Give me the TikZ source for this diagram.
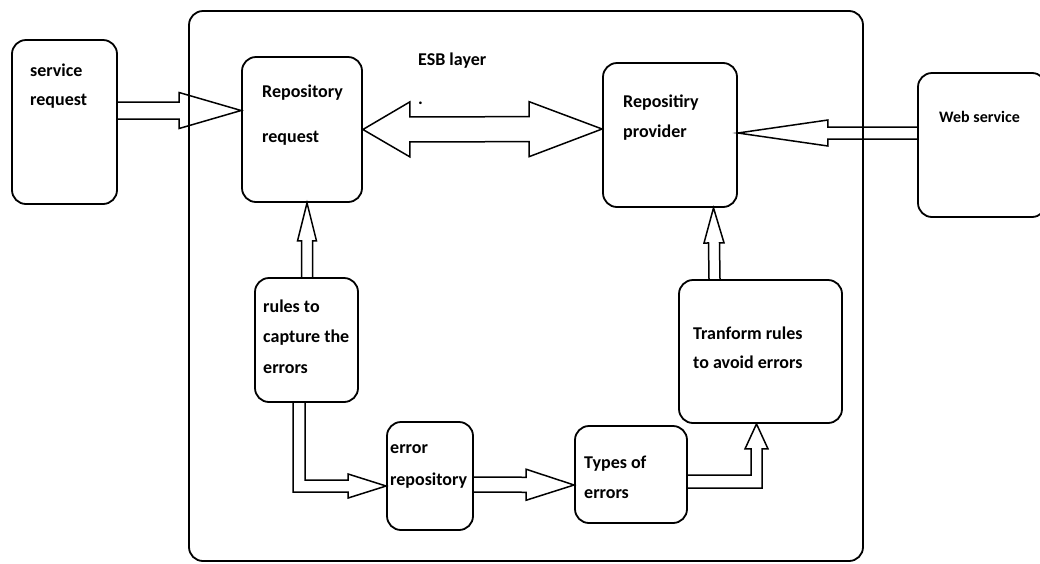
\documentclass[tikz,border=0pt]{standalone}
\usepackage{fontspec}
\setmainfont{Carlito}
\usetikzlibrary{calc}

\tikzset{
  box/.style={draw, line width=1.8pt, rounded corners=14pt, inner sep=0pt},
  txt/.style={anchor=west, align=left, inner sep=0pt, font=\bfseries\fontsize{18}{30}\selectfont},
  hollow/.style={line width=1.5pt, line join=miter},
}

% hollow block arrow: from, to, shaft half width, head half width, head length
\newcommand{\hollowarrow}[5]{%
  \coordinate (hb) at ($(#2)!#5!(#1)$);
  \draw[hollow] ($(#1)!#3!90:(#2)$) -- ($(hb)!#3!90:(#2)$) -- ($(hb)!#4!90:(#2)$)
    -- (#2) -- ($(hb)!#4!-90:(#2)$) -- ($(hb)!#3!-90:(#2)$) -- ($(#1)!#3!-90:(#2)$);
}

\begin{document}
\begin{tikzpicture}[x=1pt, y=-1pt]
  \useasboundingbox (0,0) rectangle (1040,563);

  % ESB container
  \node[box, minimum width=674pt, minimum height=550pt] (esb) at (526,286) {};
  \node[txt] (esb-t) at (418,61) {ESB layer};
  \node[txt] (dot) at (418,103) {.};

  % boxes
  \node[box, minimum width=105pt, minimum height=164pt] (svcreq) at (64.5,122) {};
  \node[box, minimum width=120pt, minimum height=145pt] (repreq) at (302,129.5) {};
  \node[box, minimum width=134pt, minimum height=144pt] (repprov) at (670,135) {};
  \node[box, minimum width=128pt, minimum height=144pt] (websvc) at (982,145) {};
  \node[box, minimum width=103pt, minimum height=124pt] (rules) at (306.5,340) {};
  \node[box, minimum width=86pt, minimum height=108pt] (errrep) at (430,476) {};
  \node[box, minimum width=112pt, minimum height=97pt] (types) at (631,474.5) {};
  \node[box, minimum width=163pt, minimum height=143pt] (tranform) at (760.5,351.5) {};

  % texts
  \node[txt, font=\bfseries\fontsize{18}{29}\selectfont] (svcreq-t) at (30,86.5) {service\\request};
  \node[txt, font=\bfseries\fontsize{18}{45}\selectfont] (repreq-t) at (262,115.5) {Repository\\request};
  \node[txt] (repprov-t) at (623,118) {Repositiry\\provider};
  \node[txt, font=\bfseries\fontsize{16}{20}\selectfont] (websvc-t) at (939,117) {Web service};
  \node[txt, font=\bfseries\fontsize{18}{30.5}\selectfont] (rules-t) at (263,336.5) {rules to\\capture the\\errors};
  \node[txt, font=\bfseries\fontsize{18}{32}\selectfont] (errrep-t) at (390,466) {error\\repository};
  \node[txt] (types-t) at (584,477) {Types of\\errors};
  \node[txt, font=\bfseries\fontsize{18}{29}\selectfont] (tranform-t) at (693,347.5) {Tranform rules\\to avoid errors};

  % straight arrows
  \coordinate (a1) at ($(svcreq.east)+(0,-11.5)$);
  \coordinate (b1) at ($(repreq.west)+(0,-19)$);
  \hollowarrow{a1}{b1}{8.5pt}{18pt}{62pt}
  \coordinate (a2) at ($(websvc.west)+(0,-12)$);
  \coordinate (b2) at ($(repprov.east)+(0,-2)$);
  \hollowarrow{a2}{b2}{6pt}{13pt}{90pt}
  \coordinate (a3) at ($(rules.north)+(0.5,0)$);
  \coordinate (b3) at ($(repreq.south)+(5,0)$);
  \hollowarrow{a3}{b3}{5.5pt}{9.5pt}{38pt}
  \coordinate (a4) at ($(tranform.north)+(-46,0)$);
  \coordinate (b4) at ($(repprov.south)+(43.5,0)$);
  \hollowarrow{a4}{b4}{5.5pt}{10pt}{35pt}
  \coordinate (a5) at ($(errrep.east)+(0,8.5)$);
  \coordinate (b5) at ($(types.west)+(0,10.5)$);
  \hollowarrow{a5}{b5}{7.5pt}{15.5pt}{48pt}

  % ESB double arrow
  \coordinate (ea) at (repreq.east);
  \coordinate (eb) at ($(repprov.west)+(0,-6)$);
  \coordinate (ha) at ($(ea)!47pt!(eb)$);
  \coordinate (hc) at ($(eb)!73pt!(ea)$);
  \draw[hollow] (ea) -- ($(ha)!27.5pt!90:(eb)$) -- ($(ha)!12.5pt!90:(eb)$)
    -- ($(hc)!12.5pt!-90:(ea)$) -- ($(hc)!27.5pt!-90:(ea)$) -- (eb)
    -- ($(hc)!27.5pt!90:(ea)$) -- ($(hc)!12.5pt!90:(ea)$)
    -- ($(ha)!12.5pt!-90:(eb)$) -- ($(ha)!27.5pt!-90:(eb)$) -- cycle;

  % elbow arrows
  \coordinate (k1) at (299,486);
  \coordinate (s1) at (rules.south -| k1);
  \coordinate (t1) at (errrep.west |- k1);
  \draw[hollow] ($(s1)+(-6,0)$) -- ($(k1)+(-6,6)$) -- ($(t1)+(-38,6)$) -- ($(t1)+(-38,12)$)
    -- (t1) -- ($(t1)+(-38,-12)$) -- ($(t1)+(-38,-6)$) -- ($(k1)+(6,-6)$) -- ($(s1)+(6,0)$);
  \coordinate (k2) at (756.5,481.5);
  \coordinate (s2) at (types.east |- k2);
  \coordinate (t2) at (tranform.south -| k2);
  \draw[hollow] ($(s2)+(0,-6.5)$) -- ($(k2)+(-5.5,-6.5)$) -- ($(t2)+(-5.5,25)$) -- ($(t2)+(-11.5,25)$)
    -- (t2) -- ($(t2)+(11.5,25)$) -- ($(t2)+(5.5,25)$) -- ($(k2)+(5.5,6.5)$) -- ($(s2)+(0,6.5)$);
\end{tikzpicture}
\end{document}
